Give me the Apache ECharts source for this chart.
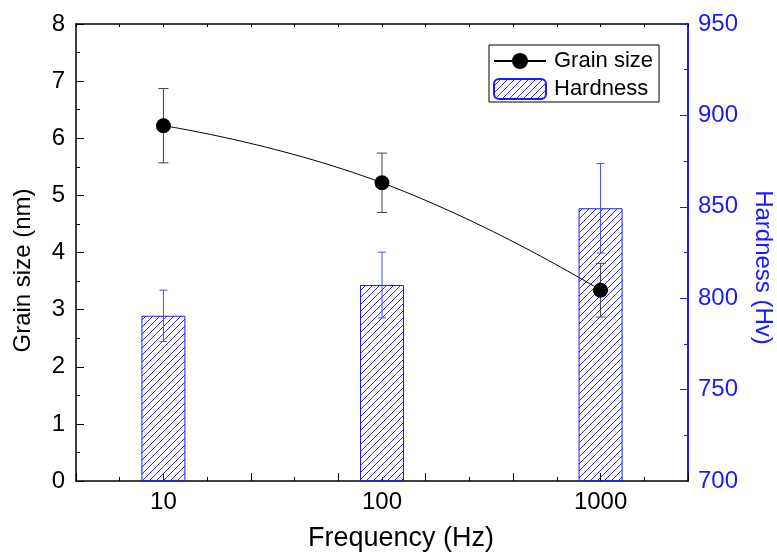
<!DOCTYPE html>
<html>
<head>
<meta charset="utf-8">
<title>Grain size and hardness vs frequency</title>
<script src="https://cdn.jsdelivr.net/npm/echarts@6/dist/echarts.min.js"></script>
<style>
  html, body { margin: 0; padding: 0; background: #fff; }
  #chart { width: 777px; height: 552px; }
</style>
</head>
<body>
<div id="chart"></div>
<script>
// data
var frequencies = [10, 100, 1000];
var grainSize = [6.22, 5.22, 3.34];
var grainErr = [0.65, 0.52, 0.47];
var hardness = [790.4, 807.2, 849.2];
var hardnessErr = [14, 18, 24.5];

// x axis runs in decades; axis starts 0.4 decade before 10 Hz
var LOG_START = 0.6;
var xPos = function (f) {
    return Math.round((Math.log10(f) - LOG_START) * 1000) / 1000;
};

var FONT = "'Liberation Sans', Arial, sans-serif";
var BLUE = '#1a1aff';

// hatch for the bars
var hatch = document.createElement('canvas');
hatch.width = 7;
hatch.height = 7;
var hctx = hatch.getContext('2d');
hctx.strokeStyle = '#2a2aff';
hctx.lineWidth = 1;
hctx.beginPath();
hctx.moveTo(0, 7); hctx.lineTo(7, 0);
hctx.moveTo(-1, 1); hctx.lineTo(1, -1);
hctx.moveTo(6, 8); hctx.lineTo(8, 6);
hctx.stroke();

var grainData = [], grainErrData = [], hardData = [], hardErrData = [];
for (var i = 0; i < frequencies.length; i++) {
    var x = xPos(frequencies[i]);
    grainData.push([x, grainSize[i]]);
    grainErrData.push([x, grainSize[i] - grainErr[i], grainSize[i] + grainErr[i]]);
    hardData.push([x, hardness[i]]);
    hardErrData.push([x, hardness[i] - hardnessErr[i], hardness[i] + hardnessErr[i]]);
}

var errorBar = function (color, cap) {
    return function (params, api) {
        var lo = api.coord([api.value(0), api.value(1)]);
        var hi = api.coord([api.value(0), api.value(2)]);
        var st = { stroke: color, lineWidth: 1 };
        return {
            type: 'group',
            children: [
                { type: 'line', shape: { x1: lo[0], y1: lo[1], x2: hi[0], y2: hi[1] }, style: st },
                { type: 'line', shape: { x1: lo[0] - cap, y1: lo[1], x2: lo[0] + cap, y2: lo[1] }, style: st },
                { type: 'line', shape: { x1: hi[0] - cap, y1: hi[1], x2: hi[0] + cap, y2: hi[1] }, style: st }
            ]
        };
    };
};

var labelFor = function (v) {
    for (var k = 0; k < frequencies.length; k++) {
        if (Math.abs(xPos(frequencies[k]) - v) < 1e-6) return String(frequencies[k]);
    }
    return '';
};

var chart = echarts.init(document.getElementById('chart'), null, { renderer: 'canvas' });

var option = {
    animation: false,
    backgroundColor: '#fff',
    textStyle: { fontFamily: FONT },
    grid: { left: 76, right: 89, top: 24, bottom: 71, containLabel: false, outerBoundsMode: 'none' },
    legend: {
        orient: 'vertical',
        left: 489,
        top: 45,
        data: ['Grain size', 'Hardness'],
        borderColor: '#000',
        borderWidth: 1,
        borderRadius: 0,
        padding: [5, 6, 2, 4],
        itemGap: 6,
        itemWidth: 52,
        itemHeight: 20,
        textStyle: { fontSize: 22, color: '#000', fontFamily: FONT, padding: [0, 0, 0, 3] }
    },
    xAxis: [
        {
            type: 'value', position: 'bottom', min: 0, max: 2.8, interval: 0.4,
            axisLine: { onZero: false, lineStyle: { color: '#000', width: 1.5 } },
            axisTick: { inside: true, length: 8, lineStyle: { color: '#000', width: 1 } },
            minorTick: { show: true, splitNumber: 2, length: 4, lineStyle: { color: '#000', width: 1 } },
            axisLabel: { show: false },
            splitLine: { show: false },
            name: 'Frequency (Hz)',
            nameLocation: 'middle',
            nameGap: 44,
            nameTextStyle: { fontSize: 27, color: '#000', fontFamily: FONT, padding: [0, 0, 0, 38] }
        },
        {
            type: 'value', position: 'bottom', min: 0, max: 2.8, interval: 0.2,
            axisLine: { show: false, onZero: false },
            axisTick: { show: false },
            splitLine: { show: false },
            axisLabel: { fontSize: 24, color: '#000', fontFamily: FONT, margin: 9, formatter: labelFor }
        },
        {
            type: 'value', position: 'top', min: 0, max: 2.8, interval: 0.2,
            axisLine: { onZero: false, lineStyle: { color: '#000', width: 1.5 } },
            axisTick: { inside: true, length: 3, lineStyle: { color: '#000', width: 1 } },
            axisLabel: { show: false },
            splitLine: { show: false }
        }
    ],
    yAxis: [
        {
            type: 'value', position: 'left', min: 0, max: 8, interval: 1,
            axisLine: { show: true, onZero: false, lineStyle: { color: '#000', width: 1.5 } },
            axisTick: { show: true, inside: true, length: 8, lineStyle: { color: '#000', width: 1 } },
            minorTick: { show: true, splitNumber: 2, length: 4, lineStyle: { color: '#000', width: 1 } },
            axisLabel: { fontSize: 24, color: '#000', fontFamily: FONT, margin: 11 },
            splitLine: { show: false },
            name: 'Grain size (nm)',
            nameLocation: 'middle',
            nameGap: 41,
            nameTextStyle: { fontSize: 24, color: '#000', fontFamily: FONT, padding: [0, 36, 0, 0] }
        },
        {
            type: 'value', position: 'right', min: 700, max: 950, interval: 50,
            axisLine: { show: true, onZero: false, lineStyle: { color: BLUE, width: 2 } },
            axisTick: { show: true, inside: true, length: 8, lineStyle: { color: BLUE, width: 1 } },
            minorTick: { show: true, splitNumber: 2, length: 4, lineStyle: { color: BLUE, width: 1 } },
            axisLabel: { fontSize: 24, color: BLUE, fontFamily: FONT, margin: 10 },
            splitLine: { show: false },
            name: 'Hardness (Hv)',
            nameLocation: 'middle',
            nameRotate: -90,
            nameGap: 63,
            nameTextStyle: { fontSize: 24, color: BLUE, fontFamily: FONT, padding: [0, 0, 0, 30] }
        }
    ],
    series: [
        {
            name: 'Hardness',
            type: 'bar',
            xAxisIndex: 0,
            yAxisIndex: 1,
            barWidth: 44,
            clip: true,
            z: 1,
            itemStyle: {
                color: { image: hatch, repeat: 'repeat' },
                borderColor: BLUE,
                borderWidth: 1
            },
            data: hardData
        },
        {
            name: 'Hardness error',
            type: 'custom',
            xAxisIndex: 0,
            yAxisIndex: 1,
            z: 2,
            renderItem: errorBar('#4a4aff', 4),
            data: hardErrData
        },
        {
            name: 'Grain size error',
            type: 'custom',
            xAxisIndex: 0,
            yAxisIndex: 0,
            z: 3,
            renderItem: errorBar('#444', 5),
            data: grainErrData
        },
        {
            name: 'Grain size',
            type: 'line',
            xAxisIndex: 0,
            yAxisIndex: 0,
            smooth: 0.5,
            z: 4,
            symbol: 'circle',
            symbolSize: 15,
            itemStyle: { color: '#000' },
            lineStyle: { color: '#000', width: 1 },
            data: grainData
        }
    ]
};

chart.setOption(option);
</script>
</body>
</html>
